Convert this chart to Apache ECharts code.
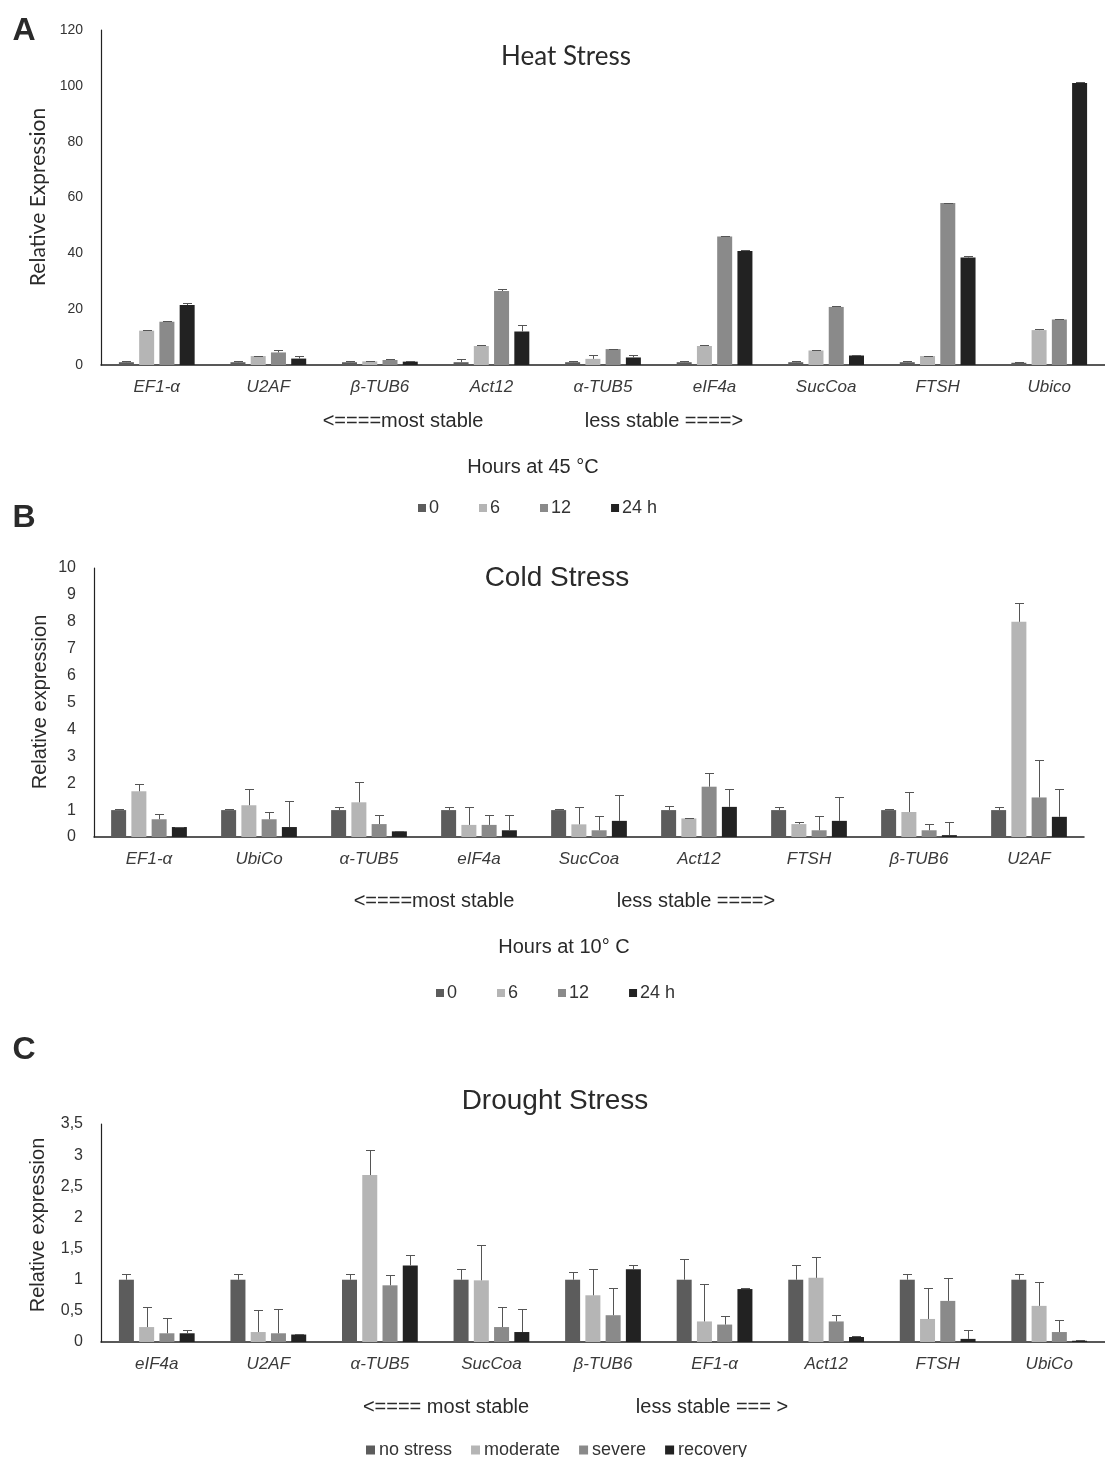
<!DOCTYPE html>
<html><head><meta charset="utf-8">
<script src="https://cdn.jsdelivr.net/npm/echarts@6/dist/echarts.min.js"></script>
<style>html,body{margin:0;padding:0;background:#fff}#c{width:1105px;height:1457px}</style>
</head><body><div id="c"></div>
<script>
// ---- Panel A: Heat stress ----
const catsA = ['EF1-α','U2AF','β-TUB6','Act12','α-TUB5','eIF4a','SucCoa','FTSH','Ubico'];
const namesAB = ['0','6','12','24 h'];
const heat0 = [1,1,1,1,1,1,1,1,0.8];
const heat0Err = [0.5,0.5,0.5,1.3,0.5,0.5,0.5,0.5,0.1];
const heat6 = [12.3,3.2,1.3,6.8,2.2,6.8,5.2,3.2,12.5];
const heat6Err = [0.3,0.2,0.2,0.3,1.4,0.3,0.3,0.2,0.3];
const heat12 = [15.5,4.5,1.8,26.5,5.7,46,20.8,58,16.3];
const heat12Err = [0.3,0.9,0.3,0.6,0.2,0.3,0.2,0.2,0.2];
const heat24 = [21.5,2.3,1.2,12,2.7,40.8,3.4,38.5,101];
const heat24Err = [0.8,0.9,0.3,2.2,1.0,0.3,0.3,0.6,0.2];

// ---- Panel B: Cold stress ----
const catsB = ['EF1-α','UbiCo','α-TUB5','eIF4a','SucCoa','Act12','FTSH','β-TUB6','U2AF'];
const cold0 = [1,1,1,1,1,1,1,1,1];
const cold0Err = [0.03,0.03,0.1,0.1,0.03,0.15,0.1,0.03,0.1];
const cold6 = [1.7,1.18,1.29,0.45,0.47,0.69,0.48,0.93,8.0];
const cold6Err = [0.27,0.62,0.75,0.67,0.65,0.03,0.09,0.75,0.7];
const cold12 = [0.66,0.66,0.48,0.45,0.25,1.87,0.25,0.25,1.47];
const cold12Err = [0.21,0.27,0.33,0.36,0.52,0.51,0.52,0.25,1.38];
const cold24 = [0.37,0.37,0.21,0.25,0.6,1.12,0.6,0.07,0.75];
const cold24Err = [0.02,0.97,0.02,0.56,0.97,0.68,0.9,0.5,1.05];

// ---- Panel C: Drought stress ----
const catsC = ['eIF4a','U2AF','α-TUB5','SucCoa','β-TUB6','EF1-α','Act12','FTSH','UbiCo'];
const namesC = ['no stress','moderate','severe','recovery'];
const dNo = [1,1,1,1,1,1,1,1,1];
const dNoErr = [0.09,0.09,0.09,0.18,0.12,0.33,0.23,0.09,0.09];
const dMod = [0.24,0.16,2.68,0.99,0.75,0.33,1.03,0.37,0.58];
const dModErr = [0.32,0.35,0.4,0.56,0.42,0.6,0.34,0.5,0.39];
const dSev = [0.14,0.14,0.91,0.24,0.43,0.28,0.33,0.66,0.16];
const dSevErr = [0.24,0.39,0.17,0.32,0.44,0.14,0.11,0.36,0.19];
const dRec = [0.14,0.12,1.23,0.16,1.17,0.85,0.08,0.05,0.02];
const dRecErr = [0.05,0.01,0.17,0.37,0.07,0.01,0.01,0.15,0.01];

const colors = ['#5c5c5c','#b5b5b5','#8a8a8a','#222222'];
const BW = 15, GAP = 0.35;

function errSeries(gi, k, vals, errs) {
  return {
    type: 'custom', xAxisIndex: gi, yAxisIndex: gi, silent: true, z: 5,
    data: vals.map((v, i) => [i, v, errs[i]]),
    renderItem: function (params, api) {
      const b = api.coord([api.value(0), api.value(1)]);
      const t = api.coord([api.value(0), api.value(1) + api.value(2)]);
      const cx = Math.round(b[0] + (k - 1.5) * BW * (1 + GAP)) + 0.5;
      const ty = Math.round(t[1]) + 0.5;
      const st = {stroke: '#555', lineWidth: 1};
      return {type: 'group', children: [
        {type: 'line', shape: {x1: cx, y1: b[1], x2: cx, y2: ty}, style: st},
        {type: 'line', shape: {x1: cx - 4.5, y1: ty, x2: cx + 4.5, y2: ty}, style: st}
      ]};
    }
  };
}
function barSeries(gi, k, name, vals) {
  return {type: 'bar', name: name, xAxisIndex: gi, yAxisIndex: gi, data: vals,
    barWidth: BW, barGap: (GAP * 100) + '%', itemStyle: {color: colors[k]}, z: 2};
}

const series = [];
[[heat0,heat0Err],[heat6,heat6Err],[heat12,heat12Err],[heat24,heat24Err]].forEach((p,k)=>series.push(barSeries(0,k,namesAB[k],p[0])));
[[cold0,cold0Err],[cold6,cold6Err],[cold12,cold12Err],[cold24,cold24Err]].forEach((p,k)=>series.push(barSeries(1,k,namesAB[k],p[0])));
[[dNo,dNoErr],[dMod,dModErr],[dSev,dSevErr],[dRec,dRecErr]].forEach((p,k)=>series.push(barSeries(2,k,namesC[k],p[0])));
[[heat0,heat0Err],[heat6,heat6Err],[heat12,heat12Err],[heat24,heat24Err]].forEach((p,k)=>series.push(errSeries(0,k,p[0],p[1])));
[[cold0,cold0Err],[cold6,cold6Err],[cold12,cold12Err],[cold24,cold24Err]].forEach((p,k)=>series.push(errSeries(1,k,p[0],p[1])));
[[dNo,dNoErr],[dMod,dModErr],[dSev,dSevErr],[dRec,dRecErr]].forEach((p,k)=>series.push(errSeries(2,k,p[0],p[1])));

const F = 'Liberation Sans, Arial, sans-serif';
function xAx(gi, cats) {
  return {type: 'category', gridIndex: gi, data: cats,
    axisLine: {lineStyle: {color: '#222', width: 1.5}}, axisTick: {show: false},
    axisLabel: {fontStyle: 'italic', fontFamily: F, fontSize: 17, color: '#3a3a3a', margin: 14}};
}
function yAx(gi, max, interval, fs, fmt) {
  return {type: 'value', gridIndex: gi, min: 0, max: max, interval: interval,
    splitLine: {show: false}, axisTick: {show: false},
    axisLine: {show: true, lineStyle: {color: '#222', width: 1.2}},
    axisLabel: {fontFamily: F, fontSize: fs, color: '#333', margin: 18, formatter: fmt}};
}

const txt = (x, y, text, font, rot) => ({type: 'text', x: x, y: y, rotation: rot || 0,
  style: {text: text, font: font, fill: '#2a2a2a', textAlign: 'center', textVerticalAlign: 'middle'}});

const option = {
  animation: false,
  backgroundColor: '#fff',
  grid: [
    {left: 101, top: 30, width: 1004, height: 335},
    {left: 94, top: 568, width: 990, height: 269},
    {left: 101, top: 1124, width: 1004, height: 218}
  ],
  xAxis: [xAx(0, catsA), xAx(1, catsB), xAx(2, catsC)],
  yAxis: [
    yAx(0, 120, 20, 14, null),
    yAx(1, 10, 1, 16, null),
    yAx(2, 3.5, 0.5, 16, v => String(v).replace('.', ','))
  ],
  legend: [
    {data: namesAB, left: 413, top: 494, icon: 'rect', itemWidth: 8, itemHeight: 8, itemGap: 40,
      textStyle: {fontFamily: F, fontSize: 18, color: '#333', padding: [0,0,0,-2]}, selectedMode: false},
    {data: namesAB, left: 431, top: 979, icon: 'rect', itemWidth: 8, itemHeight: 8, itemGap: 40,
      textStyle: {fontFamily: F, fontSize: 18, color: '#333', padding: [0,0,0,-2]}, selectedMode: false},
    {data: namesC, left: 361, top: 1436, icon: 'rect', itemWidth: 9, itemHeight: 9, itemGap: 19,
      textStyle: {fontFamily: F, fontSize: 18, color: '#333', padding: [0,0,0,-1]}, selectedMode: false}
  ],
  graphic: [
    txt(566, 57, 'Heat Stress', '26px Lato, sans-serif'),
    txt(557, 578, 'Cold Stress', '28px ' + F),
    txt(555, 1101, 'Drought Stress', '28px ' + F),
    txt(38, 197, 'Relative Expression', '21px Lato, sans-serif', Math.PI / 2),
    txt(40, 702, 'Relative expression', '20px ' + F, Math.PI / 2),
    txt(38, 1225, 'Relative expression', '20px ' + F, Math.PI / 2),
    txt(24, 31, 'A', 'bold 32px ' + F),
    txt(24, 518, 'B', 'bold 32px ' + F),
    txt(24, 1050, 'C', 'bold 32px ' + F),
    txt(403, 421, '<====most stable', '20px ' + F),
    txt(664, 421, 'less stable ====>', '20px ' + F),
    txt(533, 467, 'Hours at 45 °C', '20px ' + F),
    txt(434, 901, '<====most stable', '20px ' + F),
    txt(696, 901, 'less stable ====>', '20px ' + F),
    txt(564, 947, 'Hours at 10° C', '20px ' + F),
    txt(446, 1407, '<==== most stable', '20px ' + F),
    txt(712, 1407, 'less stable === >', '20px ' + F)
  ],
  series: series
};
const chart = echarts.init(document.getElementById('c'));
chart.setOption(option);
</script></body></html>
